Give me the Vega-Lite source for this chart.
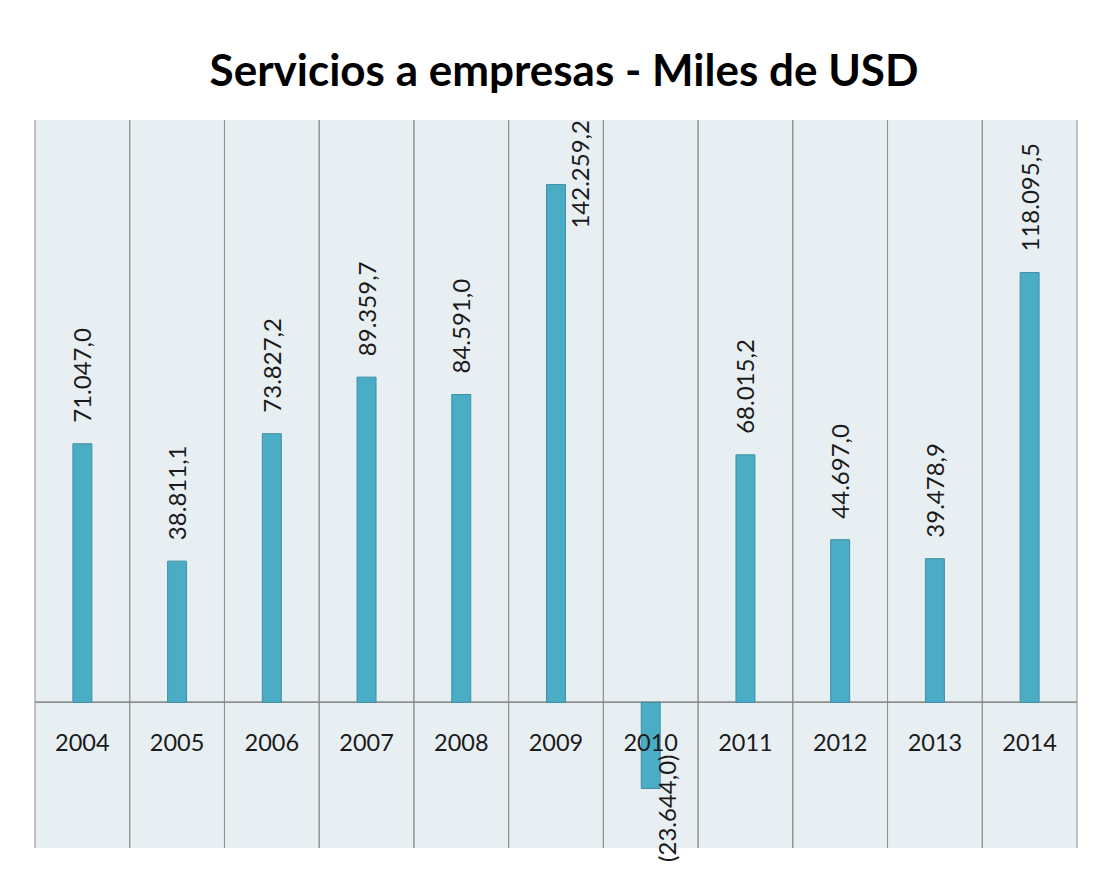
{
  "$schema": "https://vega.github.io/schema/vega-lite/v6.json",
  "width": 1042,
  "height": 728,
  "autosize": {"type": "none"},
  "padding": {"left": 35, "top": 120, "right": 21, "bottom": 24},
  "background": "white",
  "title": {
    "text": "Servicios a empresas - Miles de USD",
    "font": "Lato",
    "fontSize": 44,
    "fontWeight": "bold",
    "color": "#000000",
    "anchor": "middle",
    "frame": "group",
    "offset": 25,
    "dx": 8
  },
  "config": {
    "view": {"fill": "#E8EFF3", "stroke": null},
    "locale": {
      "number": {"decimal": ",", "thousands": ".", "grouping": [3], "currency": ["", ""]}
    }
  },
  "data": {
    "values": [
      {"year": "2004", "value": 71047.0},
      {"year": "2005", "value": 38811.1},
      {"year": "2006", "value": 73827.2},
      {"year": "2007", "value": 89359.7},
      {"year": "2008", "value": 84591.0},
      {"year": "2009", "value": 142259.2},
      {"year": "2010", "value": -23644.0},
      {"year": "2011", "value": 68015.2},
      {"year": "2012", "value": 44697.0},
      {"year": "2013", "value": 39478.9},
      {"year": "2014", "value": 118095.5}
    ]
  },
  "layer": [
    {
      "mark": {"type": "rule", "color": "#8F8F8F", "strokeWidth": 1},
      "encoding": {
        "x": {"field": "year", "type": "ordinal", "bandPosition": 0, "axis": null,
              "scale": {"type": "band", "paddingInner": 0, "paddingOuter": 0}}
      }
    },
    {
      "mark": {"type": "rule", "color": "#8F8F8F", "strokeWidth": 1},
      "encoding": {
        "x": {"field": "year", "type": "ordinal", "bandPosition": 1, "axis": null}
      }
    },
    {
      "mark": {"type": "rule", "color": "#8F8F8F", "strokeWidth": 1},
      "encoding": {
        "y": {"datum": 0, "type": "quantitative", "axis": null}
      }
    },
    {
      "mark": {"type": "bar", "width": {"band": 0.2}, "fill": "#4BACC6", "stroke": "#3D8FA5", "strokeWidth": 1},
      "encoding": {
        "x": {"field": "year", "type": "ordinal", "axis": null},
        "y": {"field": "value", "type": "quantitative", "axis": null,
              "scale": {"domain": [-40000, 160000], "nice": false, "zero": false}}
      }
    },
    {
      "mark": {"type": "text", "font": "Lato", "fontSize": 23.5, "color": "#1a1a1a", "baseline": "middle", "dy": 42},
      "encoding": {
        "x": {"field": "year", "type": "ordinal", "axis": null},
        "y": {"datum": 0, "type": "quantitative", "axis": null},
        "text": {"field": "year", "type": "nominal"}
      }
    },
    {
      "transform": [{"filter": "datum.value >= 0 && datum.value < 130000"}],
      "mark": {"type": "text", "font": "Lato", "fontSize": 24, "color": "#1a1a1a", "angle": 270, "align": "left", "baseline": "middle", "dx": 21, "dy": 2},
      "encoding": {
        "x": {"field": "year", "type": "ordinal", "axis": null},
        "y": {"field": "value", "type": "quantitative", "axis": null},
        "text": {"field": "value", "type": "quantitative", "format": "(,.1f"}
      }
    },
    {
      "transform": [{"filter": "datum.value >= 130000"}],
      "mark": {"type": "text", "font": "Lato", "fontSize": 24, "color": "#1a1a1a", "angle": 270, "align": "left", "baseline": "middle", "dx": -44, "dy": 26},
      "encoding": {
        "x": {"field": "year", "type": "ordinal", "axis": null},
        "y": {"field": "value", "type": "quantitative", "axis": null},
        "text": {"field": "value", "type": "quantitative", "format": "(,.1f"}
      }
    },
    {
      "transform": [{"filter": "datum.value < 0"}],
      "mark": {"type": "text", "font": "Lato", "fontSize": 24, "color": "#1a1a1a", "angle": 270, "align": "right", "baseline": "middle", "dx": 34, "dy": 18},
      "encoding": {
        "x": {"field": "year", "type": "ordinal", "axis": null},
        "y": {"field": "value", "type": "quantitative", "axis": null},
        "text": {"field": "value", "type": "quantitative", "format": "(,.1f"}
      }
    }
  ]
}
